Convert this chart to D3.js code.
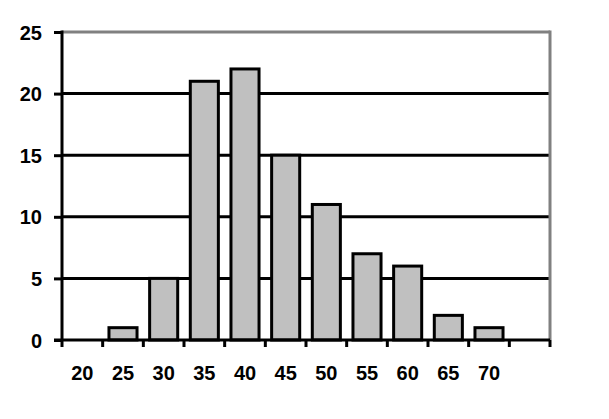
<!DOCTYPE html>
<html><head><meta charset="utf-8">
<script src="https://cdn.jsdelivr.net/npm/d3@7"></script>
<style>body{margin:0;background:#fff}svg{display:block}text{font-family:Arial,"Liberation Sans",sans-serif;font-weight:bold;font-size:20px;fill:#000}</style>
</head><body><svg id="c" width="609" height="419"></svg>
<script>
const categories = ["20","25","30","35","40","45","50","55","60","65","70",""];
const values = [0,1,5,21,22,15,11,7,6,2,1,0];
const yTicks = [0,5,10,15,20,25];

const svg = d3.select("#c");
const L = 62, R = 550, T = 32, B = 340;
const x = d3.scaleBand().domain(categories.map((c,i)=>i)).range([L,R]).paddingInner(0.31).paddingOuter(0.155);
const xs = d3.scaleBand().domain(categories.map((c,i)=>i)).range([L,R]);
const y = d3.scaleLinear().domain([0,25]).range([B,T]);

// gridlines
svg.append("g").selectAll("line").data(yTicks.filter(t=>t>0&&t<25)).join("line")
  .attr("x1",L).attr("x2",R).attr("y1",d=>y(d)).attr("y2",d=>y(d))
  .attr("stroke","#000").attr("stroke-width",3);
// top & right border gray
svg.append("line").attr("x1",L).attr("x2",R).attr("y1",y(25)).attr("y2",y(25)).attr("stroke","#808080").attr("stroke-width",3);
svg.append("line").attr("x1",R).attr("x2",R).attr("y1",T-1.5).attr("y2",B).attr("stroke","#808080").attr("stroke-width",3);

// bars
svg.append("g").selectAll("rect").data(values.map((v,i)=>({v,i})).filter(d=>d.v>0)).join("rect")
  .attr("x",d=>x(d.i)).attr("width",x.bandwidth())
  .attr("y",d=>y(d.v)).attr("height",d=>y(0)-y(d.v))
  .attr("fill","#c0c0c0").attr("stroke","#000").attr("stroke-width",3);

// y axis
const ya = svg.append("g").attr("transform",`translate(${L},0)`)
  .call(d3.axisLeft(y).tickValues(yTicks).tickSize(8).tickPadding(12));
ya.select(".domain").attr("stroke","#000").attr("stroke-width",3).attr("d",`M0,${T-1.5}V${B}`);
ya.selectAll(".tick line").attr("stroke","#000").attr("stroke-width",3);
ya.selectAll("text").attr("font-size",20).attr("font-weight","bold").attr("fill","#000").attr("dy","0.35em").attr("font-family","Arial, 'Liberation Sans', sans-serif");

// x axis
const xb = svg.append("g").attr("transform",`translate(0,${B})`);
xb.append("line").attr("x1",L-8).attr("x2",R).attr("y1",0).attr("y2",0).attr("stroke","#000").attr("stroke-width",3);
const bounds = d3.range(categories.length+1).map(i=>L+i*xs.step());
xb.selectAll(".tk").data(bounds).join("line").attr("class","tk")
  .attr("x1",d=>d).attr("x2",d=>d).attr("y1",0).attr("y2",7).attr("stroke","#000").attr("stroke-width",3);
xb.selectAll(".lb").data(categories).join("text").attr("class","lb")
  .attr("x",(d,i)=>xs(i)+xs.bandwidth()/2).attr("y",40).attr("text-anchor","middle").text(d=>d);
</script></body></html>
